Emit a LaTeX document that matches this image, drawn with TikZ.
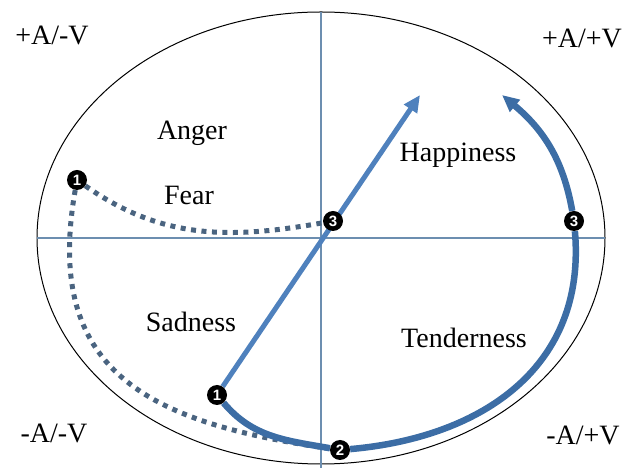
\documentclass[tikz,border=0pt]{standalone}
\usepackage{fontspec}
\setmainfont{Liberation Serif}
\newfontfamily\markfont{Liberation Sans}
\usepackage{xcolor}
\usepackage{tikz}
\usetikzlibrary{arrows.meta, backgrounds}
\definecolor{axisblue}{HTML}{6C8EB0}
\definecolor{lineblue}{HTML}{4F81BD}
\definecolor{pathblue}{HTML}{3C6DA5}
\definecolor{dotblue}{HTML}{4A6480}
\tikzset{
    circumplex/.style={x=1pt, y=1pt, >={Triangle[length=17pt, width=15pt]}, font=\fontsize{28}{30}\selectfont},
    rim/.style={draw=black, line width=1pt},
    axis/.style={draw=axisblue, line width=1.8pt},
    marker/.style={circle, fill=black, text=white, inner sep=0pt, minimum size=20pt, font=\markfont\bfseries\fontsize{15}{15}\selectfont},
    quadrant/.style={anchor=base, inner sep=0pt},
    emotion/.style={anchor=base, inner sep=0pt},
    direct/.style={draw=lineblue, line width=5pt},
    smoothpath/.style={draw=pathblue, line width=6.5pt},
    % the dotted trajectory is made of small squares
    dotpath/.style={draw=dotblue, line width=5pt, dash pattern=on 5pt off 5.5pt},
}

\begin{document}
\begin{tikzpicture}[circumplex]
    \useasboundingbox (0,0) rectangle (629,468);

    \coordinate (o)      at (321,230);
    \coordinate (west)   at (37,230);
    \coordinate (east)   at (605,230);
    \coordinate (north)  at (321,456);
    \coordinate (south)  at (321,0);
    \coordinate (tipA)   at (420,373);
    \coordinate (tipB)   at (502,373);

    \node[quadrant] (pn) at (52,423)  {+A/-V};
    \node[quadrant] (pp) at (582,420) {+A/+V};
    \node[quadrant] (nn) at (54,25)   {-A/-V};
    \node[quadrant] (np) at (583,23)  {-A/+V};

    \node[emotion] (anger)      at (192,328) {Anger};
    \node[emotion] (fear)       at (189,263) {Fear};
    \node[emotion] (happiness)  at (458,306) {Happiness};
    \node[emotion] (sadness)    at (191,136) {Sadness};
    \node[emotion] (tenderness) at (464,120) {Tenderness};

    \node[marker] (m1a) at (77,288)  {1};
    \node[marker] (m1b) at (217,73)  {1};
    \node[marker] (m2)  at (340,18)  {2};
    \node[marker] (m3a) at (333,247) {3};
    \node[marker] (m3b) at (574,247) {3};

    \begin{scope}[on background layer]
        \draw[rim] (o) ellipse [x radius=284, y radius=226];
        \draw[axis] (west) -- (east);
        \draw[axis] (north) -- (south);

        \draw[dotpath] (m1a) to[out=-35, in=190] (m3a);
        \draw[dotpath] (m1a) to[out=-100, in=172, looseness=1.3] (m2);

        \draw[direct, ->] (m1b) -- (tipA);

        \draw[smoothpath] (m1b) to[out=-50, in=170] (m2);
        \draw[smoothpath] (m2) to[out=5, in=-85, looseness=1.1] (m3b);
        \draw[smoothpath, ->] (m3b) to[out=100, in=-40] (tipB);
    \end{scope}
\end{tikzpicture}
\end{document}
